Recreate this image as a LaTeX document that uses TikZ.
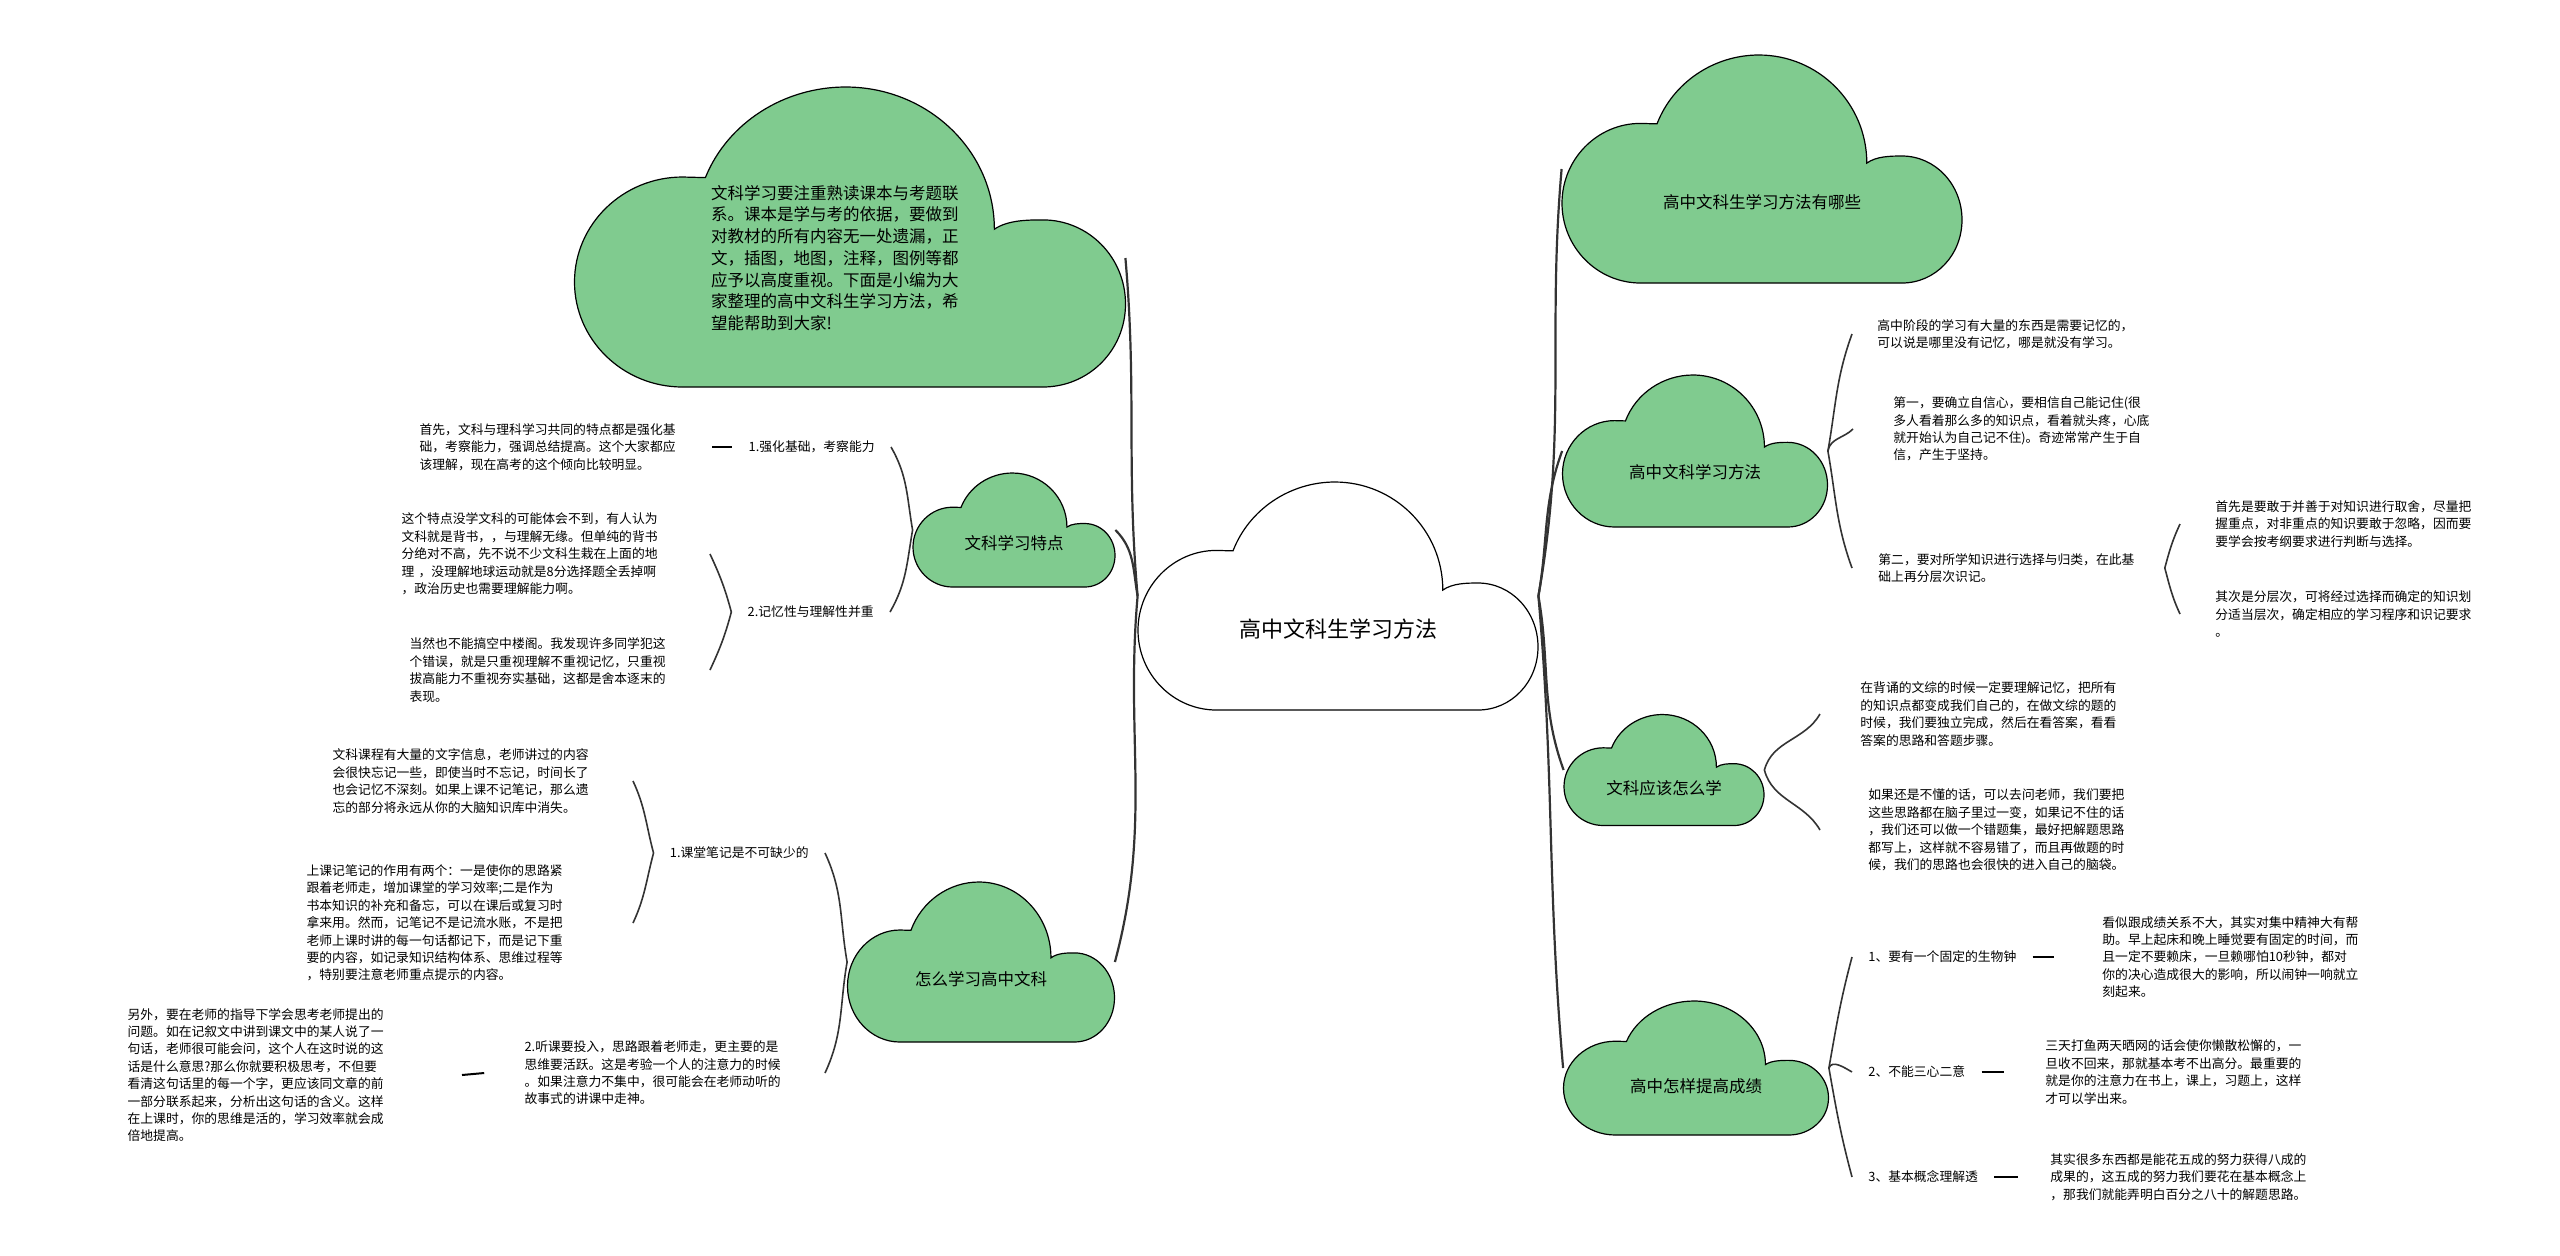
\documentclass[tikz,border=0pt]{standalone}
\usepackage{fontspec}
\setmainfont{Noto Sans CJK SC}

\definecolor{mint}{RGB}{128,203,143}
\definecolor{ink}{RGB}{51,51,51}

% cloud outline, centred on (#2,#3) in pixels, #4 x #5 big
\newcommand{\cloudat}[5][mint]{%
    \filldraw[draw=black, line width=0.6pt, fill=#1, shift={(#2,-#3)}, xscale=#4, yscale=#5]
        (-0.2625,0.198) .. controls (-0.222,0.382) and (-0.119,0.5) .. (-0.008,0.5)
        .. controls (0.141,0.5) and (0.262,0.288) .. (0.262,0.026)
        .. controls (0.286,0.056) and (0.321,0.057) .. (0.35,0.057)
        .. controls (0.433,0.057) and (0.5,-0.068) .. (0.5,-0.223)
        .. controls (0.5,-0.378) and (0.433,-0.5) .. (0.35,-0.5)
        -- (-0.304,-0.5)
        .. controls (-0.412,-0.5) and (-0.5,-0.343) .. (-0.5,-0.15)
        .. controls (-0.5,0.043) and (-0.412,0.2) .. (-0.304,0.2) -- cycle;}

\tikzset{
    cloudtext/.style={inner sep=0pt, text depth=0pt, font=\fontsize{8.25}{10}\selectfont},
    desc/.style={font=\fontsize{6.4}{8.7}\selectfont, align=left, text width=130pt, inner ysep=1pt},
    tag/.style={font=\fontsize{6.4}{8.7}\selectfont, inner xsep=8pt, inner ysep=1pt},
    trunk/.style={draw=ink, line width=1.1pt},
    twig/.style={draw=ink, line width=0.8pt},
    stub/.style={draw=black, line width=1pt}
}

\begin{document}
\begin{tikzpicture}[x=0.5pt, y=0.5pt]
    \fill[white] (0,0) rectangle (2560,-1255);
    \useasboundingbox (0,0) rectangle (2560,-1255);

    % clouds
    \cloudat{850}{237}{551}{300}
    \cloudat{1014}{530}{202}{114}
    \cloudat{981}{962}{267}{160}
    \cloudat[white]{1338}{596}{400}{228}
    \cloudat{1762}{169}{400}{228}
    \cloudat{1695}{451}{265}{152}
    \cloudat{1664}{770}{200}{111}
    \cloudat{1696}{1068}{265}{134}

    \node[cloudtext, font=\fontsize{11}{13}\selectfont, minimum width=200pt, minimum height=114pt, text height=41.7pt] (main) at (1338,-596) {高中文科生学习方法};
    \node[inner sep=0pt, minimum width=289pt, align=left, text width=125pt, font=\fontsize{8.25}{10.85}\selectfont] (intro) at (836,-258)
        {文科学习要注重熟读课本与考题联\\系。课本是学与考的依据，要做到\\对教材的所有内容无一处遗漏，正\\文，插图，地图，注释，图例等都\\应予以高度重视。下面是小编为大\\家整理的高中文科生学习方法，希\\望能帮助到大家!};
    \node[cloudtext, minimum width=101pt, minimum height=57pt, text height=19.8pt] (tese) at (1014,-530) {文科学习特点};
    \node[cloudtext, minimum width=133.5pt, minimum height=80pt, text height=23.8pt] (zenme) at (981,-962) {怎么学习高中文科};
    \node[cloudtext, minimum width=200pt, minimum height=114pt, text height=39.8pt] (youna) at (1762,-169) {高中文科生学习方法有哪些};
    \node[cloudtext, minimum width=132.5pt, minimum height=76pt, text height=27.8pt] (fangfa) at (1695,-451) {高中文科学习方法};
    \node[cloudtext, minimum width=100pt, minimum height=55.5pt, text height=24.8pt] (yinggai) at (1664,-770) {文科应该怎么学};
    \node[cloudtext, minimum width=132.5pt, minimum height=67pt, text height=24.8pt] (tigao) at (1696,-1068) {高中怎样提高成绩};

    % left side
    \node[tag, anchor=east] (l1) at (891,-447) {1.强化基础，考察能力};
    \node[tag, anchor=east] (l2) at (890,-612) {2.记忆性与理解性并重};
    \node[desc, anchor=east, inner xsep=16pt] (d1) at (712,-447)
        {首先，文科与理科学习共同的特点都是强化基\\础，考察能力，强调总结提高。这个大家都应\\该理解，现在高考的这个倾向比较明显。};
    \node[desc, anchor=east, inner xsep=24pt] (d2) at (710,-554)
        {这个特点没学文科的可能体会不到，有人认为\\文科就是背书，，与理解无缘。但单纯的背书\\分绝对不高，先不说不少文科生栽在上面的地\\理 ，没理解地球运动就是8分选择题全丢掉啊\\，政治历史也需要理解能力啊。};
    \node[desc, anchor=east, inner xsep=20pt] (d3) at (710,-670)
        {当然也不能搞空中楼阁。我发现许多同学犯这\\个错误，就是只重视理解不重视记忆，只重视\\拔高能力不重视夯实基础，这都是舍本逐末的\\表现。};

    \node[tag, anchor=east] (zl1) at (825,-853) {1.课堂笔记是不可缺少的};
    \node[desc, anchor=east, inner xsep=20pt] (zl2) at (825,-1073)
        {2.听课要投入，思路跟着老师走，更主要的是\\思维要活跃。这是考验一个人的注意力的时候\\。如果注意力不集中，很可能会在老师动听的\\故事式的讲课中走神。};
    \node[desc, anchor=east, inner xsep=20pt] (zd1) at (633,-781)
        {文科课程有大量的文字信息，老师讲过的内容\\会很快忘记一些，即使当时不忘记，时间长了\\也会记忆不深刻。如果上课不记笔记，那么遗\\忘的部分将永远从你的大脑知识库中消失。};
    \node[desc, anchor=east, inner xsep=33pt] (zd2) at (633,-923)
        {上课记笔记的作用有两个：一是使你的思路紧\\跟着老师走，增加课堂的学习效率;二是作为\\书本知识的补充和备忘，可以在课后或复习时\\拿来用。然而，记笔记不是记流水账，不是把\\老师上课时讲的每一句话都记下，而是记下重\\要的内容，如记录知识结构体系、思维过程等\\，特别要注意老师重点提示的内容。};
    \node[desc, anchor=east, inner xsep=37pt] (zd3) at (462,-1075)
        {另外，要在老师的指导下学会思考老师提出的\\问题。如在记叙文中讲到课文中的某人说了一\\句话，老师很可能会问，这个人在这时说的这\\话是什么意思?那么你就要积极思考，不但要\\看清这句话里的每一个字，更应该同文章的前\\一部分联系起来，分析出这句话的含义。这样\\在上课时，你的思维是活的，学习效率就会成\\倍地提高。};

    % right side
    \node[desc, anchor=west, inner xsep=12.5pt] (rgao) at (1852,-334)
        {高中阶段的学习有大量的东西是需要记忆的，\\可以说是哪里没有记忆，哪是就没有学习。};
    \node[desc, anchor=west, inner xsep=20pt] (rdiyi) at (1853,-429)
        {第一，要确立自信心，要相信自己能记住(很\\多人看着那么多的知识点，看着就头疼，心底\\就开始认为自己记不住)。奇迹常常产生于自\\信，产生于坚持。};
    \node[desc, anchor=west, inner xsep=13pt] (rdier) at (1852,-568)
        {第二，要对所学知识进行选择与归类，在此基\\础上再分层次识记。};
    \node[desc, anchor=west, inner xsep=17.5pt] (rs) at (2180,-524)
        {首先是要敢于并善于对知识进行取舍，尽量把\\握重点，对非重点的知识要敢于忽略，因而要\\要学会按考纲要求进行判断与选择。};
    \node[desc, anchor=west, inner xsep=17.5pt] (rq) at (2180,-614)
        {其次是分层次，可将经过选择而确定的知识划\\分适当层次，确定相应的学习程序和识记要求\\。};

    \node[desc, anchor=west, inner xsep=20pt] (y1) at (1820,-714)
        {在背诵的文综的时候一定要理解记忆，把所有\\的知识点都变成我们自己的，在做文综的题的\\时候，我们要独立完成，然后在看答案，看看\\答案的思路和答题步骤。};
    \node[desc, anchor=west, inner xsep=24pt] (y2) at (1820,-830)
        {如果还是不懂的话，可以去问老师，我们要把\\这些思路都在脑子里过一变，如果记不住的话\\，我们还可以做一个错题集，最好把解题思路\\都写上，这样就不容易错了，而且再做题的时\\候，我们的思路也会很快的进入自己的脑袋。};

    \node[tag, anchor=west] (t1) at (1852,-957) {1、要有一个固定的生物钟};
    \node[tag, anchor=west] (t2) at (1852,-1072) {2、不能三心二意};
    \node[tag, anchor=west] (t3) at (1852,-1177) {3、基本概念理解透};
    \node[desc, anchor=west, inner xsep=24pt] (td1) at (2054,-957)
        {看似跟成绩关系不大，其实对集中精神大有帮\\助。早上起床和晚上睡觉要有固定的时间，而\\且一定不要赖床，一旦赖哪怕10秒钟，都对\\你的决心造成很大的影响，所以闹钟一响就立\\刻起来。};
    \node[desc, anchor=west, inner xsep=20.5pt] (td2) at (2004,-1072)
        {三天打鱼两天晒网的话会使你懒散松懈的，一\\旦收不回来，那就基本考不出高分。最重要的\\就是你的注意力在书上，课上，习题上，这样\\才可以学出来。};
    \node[desc, anchor=west, inner xsep=16pt] (td3) at (2018,-1177)
        {其实很多东西都是能花五成的努力获得八成的\\成果的，这五成的努力我们要花在基本概念上\\，那我们就能弄明白百分之八十的解题思路。};

    % links
    \path[trunk] (main.west) edge[out=95, in=-85] (intro.east)
                 (main.west) edge[out=100, in=-45] (tese.east)
                 (main.west) edge[out=-95, in=75] (zenme.east)
                 (main.east) edge[out=80, in=-95] (youna.west)
                 (main.east) edge[out=80, in=-110] (fangfa.west)
                 (main.east) edge[out=-80, in=110] (yinggai.west)
                 (main.east) edge[out=-85, in=95] (tigao.west);
    \path[twig] (tese.west) edge[out=100, in=-60] (l1.east)
                (tese.west) edge[out=-100, in=60] (l2.east)
                (l2.west) edge[out=105, in=-65] (d2.east)
                (l2.west) edge[out=-105, in=65] (d3.east)
                (zenme.west) edge[out=100, in=-65] (zl1.east)
                (zenme.west) edge[out=-100, in=65] (zl2.east)
                (zl1.west) edge[out=105, in=-65] (zd1.east)
                (zl1.west) edge[out=-105, in=65] (zd2.east)
                (fangfa.east) edge[out=80, in=-110] (rgao.west)
                (fangfa.east) edge[out=80, in=-135] (rdiyi.west)
                (fangfa.east) edge[out=-80, in=110] (rdier.west)
                (rdier.east) edge[out=75, in=-115] (rs.west)
                (rdier.east) edge[out=-75, in=115] (rq.west)
                (yinggai.east) edge[out=75, in=-120] (y1.west)
                (yinggai.east) edge[out=-75, in=120] (y2.west)
                (tigao.east) edge[out=80, in=-105] (t1.west)
                (tigao.east) edge[out=70, in=150] (t2.west)
                (tigao.east) edge[out=-80, in=105] (t3.west);
    \path[stub] (d1.east) edge (l1.west)
                (zd3.east) edge (zl2.west)
                (t1.east) edge (td1.west)
                (t2.east) edge (td2.west)
                (t3.east) edge (td3.west);
\end{tikzpicture}
\end{document}
